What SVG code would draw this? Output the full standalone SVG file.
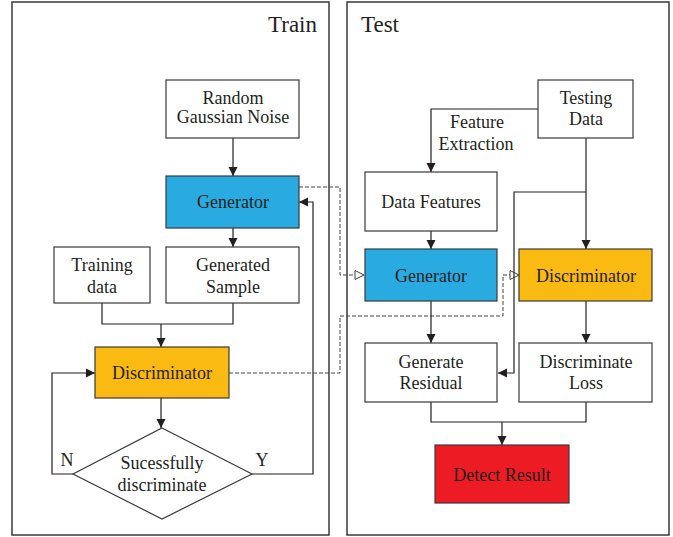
<svg xmlns="http://www.w3.org/2000/svg" width="673" height="537" viewBox="0 0 673 537">
<style>
text{font-family:"Liberation Serif","DejaVu Serif",serif;font-size:18px;fill:#231F20;text-anchor:middle}
.t{font-size:23px}
.box{stroke:#3a3a3a;stroke-width:1.2;fill:#fff}
.panel{stroke:#3a3a3a;stroke-width:1.5;fill:none}
.c{fill:none;stroke:#231F20;stroke-width:1.2}
.d{fill:none;stroke:#444;stroke-width:1;stroke-dasharray:4 2}
</style>
<defs>
<marker id="a" markerWidth="10" markerHeight="10" refX="9" refY="5" orient="auto" markerUnits="userSpaceOnUse"><path d="M0,0.5 L9,5 L0,9.5 Z" fill="#231F20"/></marker>
<marker id="h" markerWidth="12" markerHeight="12" refX="10" refY="6" orient="auto" markerUnits="userSpaceOnUse"><path d="M1,1.5 L10,6 L1,10.5 Z" fill="#fff" stroke="#444" stroke-width="1"/></marker>
</defs>
<rect class="panel" x="12" y="2" width="317" height="533"/>
<rect class="panel" x="347" y="2" width="322" height="533"/>
<text class="t" x="317" y="32" style="text-anchor:end">Train</text>
<text class="t" x="361" y="32" style="text-anchor:start">Test</text>

<g id="connectors">
<path class="c" d="M233,138 V176" marker-end="url(#a)"/>
<path class="c" d="M233,228 V247" marker-end="url(#a)"/>
<path class="c" d="M102,303 V324 H233 V303"/>
<path class="c" d="M161,324 V347" marker-end="url(#a)"/>
<path class="c" d="M161,398 V428" marker-end="url(#a)"/>
<path class="c" d="M73,474 H52 V373 H95" marker-end="url(#a)"/>
<path class="c" d="M252,474 H313 V202 H299" marker-end="url(#a)"/>
<path class="d" d="M299,187 H340 V275 H364" marker-end="url(#h)"/>
<path class="d" d="M229,373 H340 V316 H503 V275 H519" marker-end="url(#h)"/>
<path class="c" d="M538,109 H431 V172" marker-end="url(#a)"/>
<path class="c" d="M586,138 V249" marker-end="url(#a)"/>
<path class="c" d="M586,192 H514 V373 H498" marker-end="url(#a)"/>
<path class="c" d="M431,231 V249" marker-end="url(#a)"/>
<path class="c" d="M431,301 V343" marker-end="url(#a)"/>
<path class="c" d="M586,301 V343" marker-end="url(#a)"/>
<path class="c" d="M431,402 V422 H586 V402"/>
<path class="c" d="M502,422 V445" marker-end="url(#a)"/>
</g>

<g id="noise"><rect class="box" x="166" y="80" width="133" height="58"/><text x="233" y="104">Random</text><text x="233" y="123">Gaussian Noise</text></g>
<g id="train-generator"><rect class="box" x="166" y="176" width="133" height="52" style="fill:#29ABE2"/><text x="233" y="208">Generator</text></g>
<g id="training-data"><rect class="box" x="54" y="247" width="96" height="56"/><text x="102" y="271">Training</text><text x="102" y="293">data</text></g>
<g id="generated-sample"><rect class="box" x="166" y="247" width="133" height="56"/><text x="233" y="271">Generated</text><text x="233" y="293">Sample</text></g>
<g id="train-discriminator"><rect class="box" x="95" y="347" width="134" height="51" style="fill:#FBBA12"/><text x="162" y="379">Discriminator</text></g>
<g id="decision"><path class="box" d="M162,428 L252,474 L162,519 L73,474 Z"/><text x="162" y="469">Sucessfully</text><text x="162" y="491">discriminate</text></g>
<text x="67" y="466">N</text>
<text x="262" y="466">Y</text>
<text x="477" y="128">Feature</text>
<text x="476" y="150">Extraction</text>

<g id="testing-data"><rect class="box" x="538" y="80" width="95" height="58"/><text x="586" y="104">Testing</text><text x="586" y="125">Data</text></g>
<g id="data-features"><rect class="box" x="365" y="172" width="132" height="59"/><text x="431" y="208">Data Features</text></g>
<g id="test-generator"><rect class="box" x="365" y="249" width="132" height="52" style="fill:#29ABE2"/><text x="431" y="282">Generator</text></g>
<g id="test-discriminator"><rect class="box" x="519" y="249" width="133" height="52" style="fill:#FBBA12"/><text x="586" y="282">Discriminator</text></g>
<g id="generate-residual"><rect class="box" x="365" y="343" width="132" height="59"/><text x="431" y="368">Generate</text><text x="431" y="389">Residual</text></g>
<g id="discriminate-loss"><rect class="box" x="519" y="343" width="133" height="59"/><text x="586" y="368">Discriminate</text><text x="586" y="389">Loss</text></g>
<g id="detect-result"><rect class="box" x="435" y="445" width="134" height="58" style="fill:#ED1C24"/><text x="502" y="481">Detect Result</text></g>
</svg>
